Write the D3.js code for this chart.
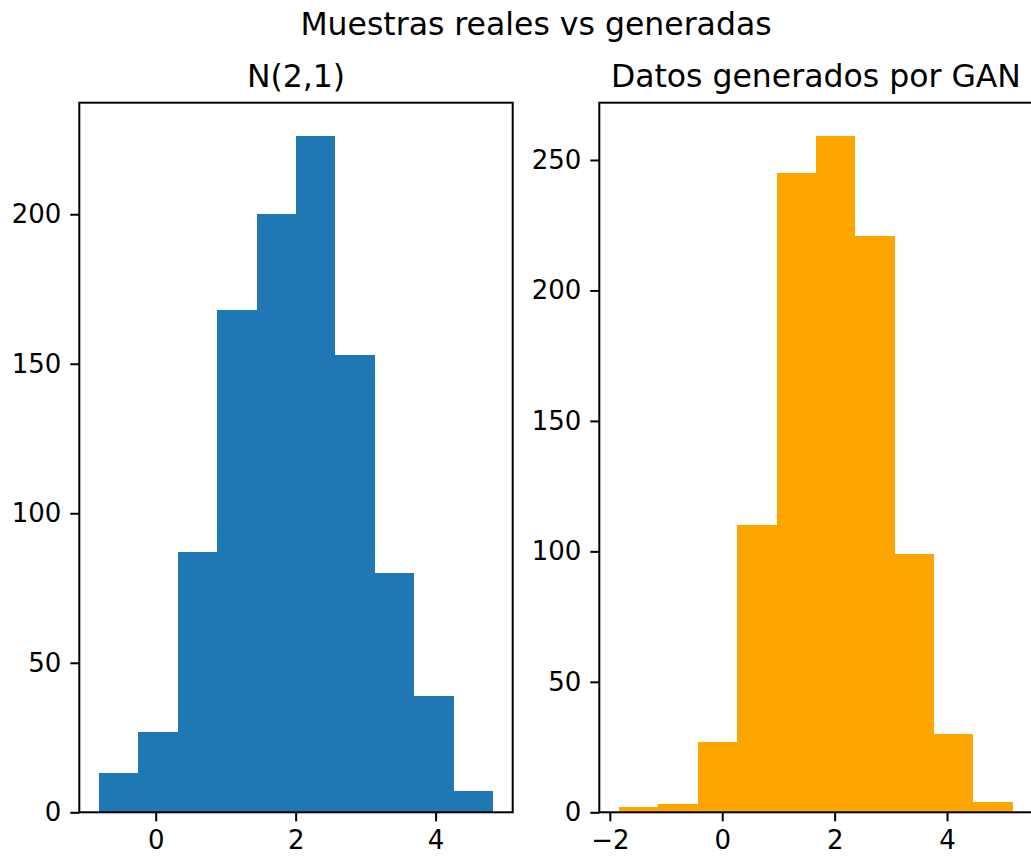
<!DOCTYPE html>
<html>
<head>
<meta charset="utf-8">
<script src="https://cdn.jsdelivr.net/npm/d3@7"></script>
<style>
  html, body { margin: 0; padding: 0; background: #fff; }
  svg { display: block; font-family: "DejaVu Sans", sans-serif; }
</style>
</head>
<body>
<svg id="chart" width="1031" height="856"></svg>
<script>
// ---- data ----
const suptitle = "Muestras reales vs generadas";
const titleReal = "N(2,1)";
const titleGen = "Datos generados por GAN";

const realEdges = [-0.81, -0.247, 0.316, 0.879, 1.442, 2.005, 2.568, 3.131, 3.694, 4.257, 4.82];
const realCounts = [13, 27, 87, 168, 200, 226, 153, 80, 39, 7];
const realXTicks = [0, 2, 4];
const realYTicks = [0, 50, 100, 150, 200];

const genEdges = [-1.837, -1.137, -0.436, 0.265, 0.966, 1.667, 2.367, 3.068, 3.768, 4.469, 5.17];
const genCounts = [2, 3, 27, 110, 245, 259, 221, 99, 30, 4];
const genXTicks = [-2, 0, 2, 4];
const genYTicks = [0, 50, 100, 150, 200, 250];

// ---- layout ----
const svg = d3.select("#chart");
const plotTop = 102.7, plotBottom = 812.3;
const tickFont = 26, titleFont = 31.5;

svg.append("text")
  .attr("x", 536).attr("y", 35.3)
  .attr("text-anchor", "middle")
  .attr("font-size", titleFont)
  .attr("fill", "#000")
  .text(suptitle);

function panel(left, right, edges, counts, xTicks, yTicks, color, title) {
  const lo = edges[0], hi = edges[edges.length - 1];
  const pad = (hi - lo) * 0.05;
  const x = d3.scaleLinear().domain([lo - pad, hi + pad]).range([left, right]);
  const ymax = d3.max(counts) * 1.05;
  const y = d3.scaleLinear().domain([0, ymax]).range([plotBottom, plotTop]);

  const g = svg.append("g");
  const bins = counts.map((c, i) => ({ x0: edges[i], x1: edges[i + 1], c }));
  g.selectAll("rect.bar").data(bins).enter().append("rect")
    .attr("class", "bar")
    .attr("x", d => x(d.x0))
    .attr("width", d => x(d.x1) - x(d.x0))
    .attr("y", d => y(d.c))
    .attr("height", d => y(0) - y(d.c))
    .attr("fill", color)
    .attr("shape-rendering", "crispEdges");

  // frame
  g.append("rect")
    .attr("x", left).attr("y", plotTop)
    .attr("width", right - left).attr("height", plotBottom - plotTop)
    .attr("fill", "none").attr("stroke", "#000").attr("stroke-width", 2);

  const fmt = v => d3.format("")(v).replace("-", "\u2212");
  const xa = g.append("g").attr("transform", `translate(0,${plotBottom})`)
    .call(d3.axisBottom(x).tickValues(xTicks).tickSize(9).tickPadding(9).tickFormat(fmt));
  const ya = g.append("g").attr("transform", `translate(${left},0)`)
    .call(d3.axisLeft(y).tickValues(yTicks).tickSize(9).tickPadding(9).tickFormat(fmt));
  [xa, ya].forEach(a => {
    a.select(".domain").remove();
    a.selectAll("line").attr("stroke", "#000").attr("stroke-width", 2);
    a.selectAll("text").attr("font-size", tickFont).attr("fill", "#000")
      .attr("font-family", "DejaVu Sans, sans-serif");
  });

  g.append("text")
    .attr("x", (left + right) / 2).attr("y", 87.3)
    .attr("text-anchor", "middle")
    .attr("font-size", titleFont)
    .attr("fill", "#000")
    .text(title);
}

panel(79.3, 512.7, realEdges, realCounts, realXTicks, realYTicks, "#1f77b4", titleReal);
panel(599.3, 1032.5, genEdges, genCounts, genXTicks, genYTicks, "#ffa500", titleGen);
</script>
</body>
</html>
